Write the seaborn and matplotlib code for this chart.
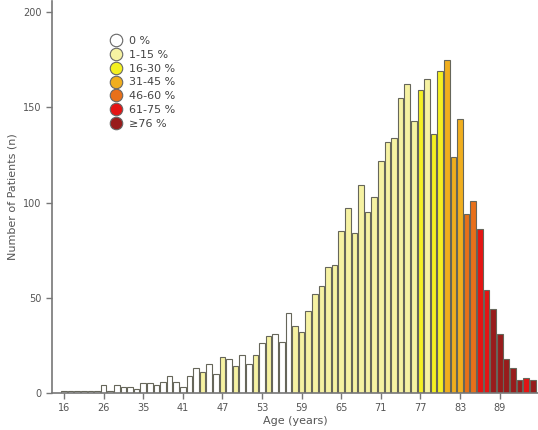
import pandas as pd
import matplotlib.pyplot as plt
import seaborn as sns
from matplotlib.lines import Line2D

# patients per age bar (left to right) and the share category of each bar
counts = [1, 1, 1, 1, 1, 1, 4, 1, 4, 3, 3, 2,
          5, 5, 4, 6, 9, 6, 3, 9, 13, 11, 15, 10,
          19, 18, 14, 20, 15, 20, 26, 30, 31, 27, 42, 35,
          32, 43, 52, 56, 66, 67, 85, 97, 84, 109, 95, 103,
          122, 132, 134, 155, 162, 143, 159, 165, 136, 169, 175, 124,
          144, 94, 101, 86, 54, 44, 31, 18, 13, 7, 8, 7]
share = (['0 %'] * 21 + ['1-15 %']
         + ['0 %', '0 %', '1-15 %', '0 %', '1-15 %', '0 %', '0 %', '1-15 %', '0 %', '1-15 %', '0 %', '0 %', '0 %']
         + ['1-15 %'] * 19
         + ['16-30 %', '1-15 %', '16-30 %', '16-30 %']
         + ['31-45 %'] * 3 + ['46-60 %'] * 2 + ['61-75 %'] * 2
         + ['≥76 %'] * 5 + ['61-75 %'] + ['≥76 %'])
tick_labels = ['16', '26', '35', '41', '47', '53', '59', '65', '71', '77', '83', '89']

categories = ['0 %', '1-15 %', '16-30 %', '31-45 %', '46-60 %', '61-75 %', '≥76 %']
colors = ['#ffffff', '#f6f2a2', '#f4f022', '#f0ae1e', '#e8701a', '#e41414', '#981c1c']
palette = dict(zip(categories, colors))

df = pd.DataFrame({'bar': range(len(counts)), 'n': counts, 'share': share})

sns.set_style('white')
plt.rcParams['font.family'] = ['DejaVu Sans']

fig = plt.figure(figsize=(5.38, 4.30), dpi=100)
ax = fig.add_axes([0.0967, 0.086, 0.9033, 0.9126])

sns.barplot(data=df, x='bar', y='n', hue='share', palette=palette, hue_order=categories,
            dodge=False, width=0.85, saturation=1, edgecolor='#66665a', linewidth=0.8,
            legend=False, ax=ax)

ax.set_xlim(-1.8, 71.8)
ax.set_ylim(0, 206)
ax.set_xticks(range(0, 72, 6))
ax.set_xticklabels(tick_labels)
ax.set_yticks([0, 50, 100, 150, 200])

for s in ['top', 'right']:
    ax.spines[s].set_visible(False)
for s in ['left', 'bottom']:
    ax.spines[s].set_color('#777777')
    ax.spines[s].set_linewidth(1.2)
ax.tick_params(axis='both', direction='out', length=4, width=1, color='#777777',
               labelsize=7, labelcolor='#555555', bottom=True, left=True)

ax.set_xlabel('Age (years)', fontsize=8, color='#555555', labelpad=2)
ax.set_ylabel('Number of Patients (n)', fontsize=8, color='#555555', labelpad=4)

handles = [Line2D([], [], marker='o', linestyle='', markersize=9,
                  markerfacecolor=c, markeredgecolor='#666666', markeredgewidth=0.8)
           for c in colors]
ax.legend(handles, categories, loc='upper left', bbox_to_anchor=(0.098, 0.935),
          frameon=False, fontsize=8, labelcolor='#444444', labelspacing=0.34,
          handletextpad=0.5, handlelength=1.2)

plt.savefig('out.png', dpi=100)
plt.close()
